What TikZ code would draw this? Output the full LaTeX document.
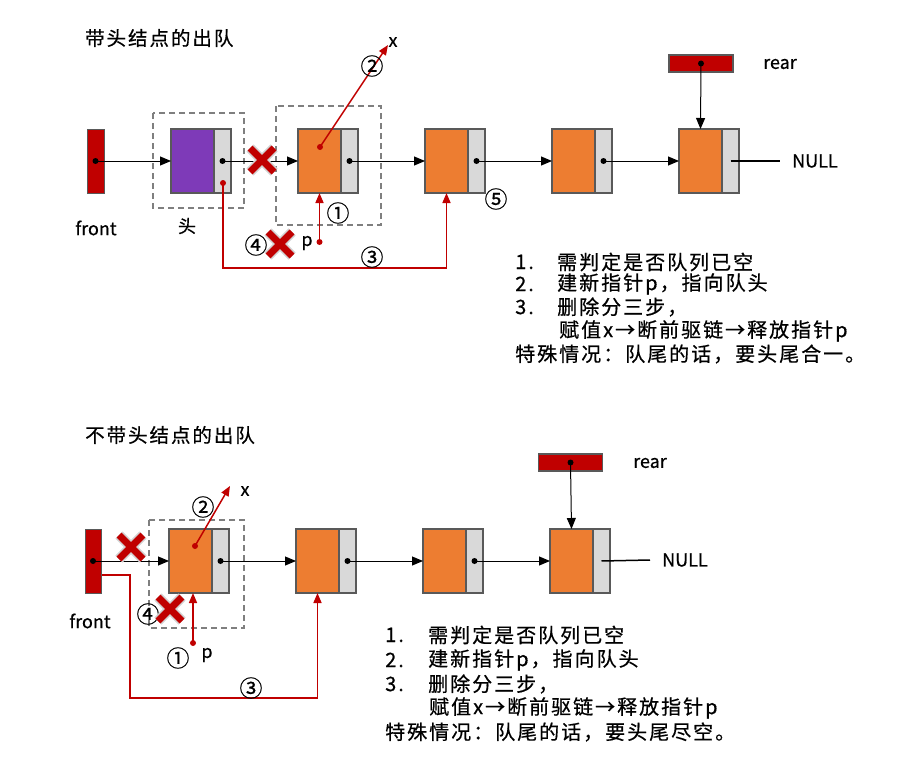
\documentclass[tikz,border=0pt]{standalone}
\usepackage{fontspec}
\setmainfont[FakeBold=0.6]{Noto Sans CJK SC}
\newfontfamily\spacedfont[FakeBold=0.6,LetterSpace=10]{Noto Sans CJK SC}
\usetikzlibrary{arrows.meta}
\definecolor{dred}{HTML}{C00000}
\definecolor{dorange}{HTML}{ED7D31}
\definecolor{lgray}{HTML}{D9D9D9}
\definecolor{bord}{HTML}{595959}
\definecolor{purp}{HTML}{7E3AB8}
\definecolor{dgray}{HTML}{7F7F7F}
\begin{document}
\begin{tikzpicture}[x=1pt,y=-1pt,
  cell/.style={draw=bord,line width=2.5pt,minimum height=64pt,inner sep=0pt,outer sep=0pt},
  datacell/.style={cell,fill=dorange,minimum width=43pt},
  headcell/.style={cell,fill=purp,minimum width=43pt},
  ptrcell/.style={cell,fill=lgray,minimum width=17pt,anchor=west},
  frontbox/.style={draw=bord,line width=1pt,fill=dred,minimum width=17pt,minimum height=64pt,inner sep=0pt},
  rearbox/.style={draw=bord,line width=1.5pt,fill=dred,minimum width=64pt,minimum height=17pt,inner sep=0pt},
  dashbox/.style={draw=dgray,line width=1.5pt,dash pattern=on 6pt off 4pt},
  lbl/.style={font=\fontsize{18}{20}\selectfont,inner sep=0pt},
  circ/.style={font=\fontsize{23}{24}\selectfont,inner sep=0pt},
  title/.style={font=\spacedfont\fontsize{19.5}{22}\selectfont,inner sep=0pt,anchor=west},
  item/.style={font=\spacedfont\fontsize{20}{23}\selectfont,inner sep=0pt,anchor=west},
  bptr/.style={line width=1pt,-{Triangle[length=11pt,width=9pt]}},
  rptr/.style={draw=dred,line width=1.5pt,-{Triangle[length=10pt,width=8pt]},dred},
  xcross/.pic={
    \draw[gray!35,line width=10pt] (-12,-12) -- (12,12) (-12,12) -- (12,-12);
    \draw[dred,line width=7pt] (-12,-12) -- (12,12) (-12,12) -- (12,-12);
  }
]
\useasboundingbox (0,0) rectangle (922,784);

% ================= top: with head node =================
\node[title] (t1) at (85,38) {带头结点的出队};

\draw[dashbox] (153,113) rectangle (244,208);
\draw[dashbox] (276,106) rectangle (381,225);

\node[frontbox] (fT) at (95.5,161) {};
\node[lbl] (fTl) at (96,228) {front};

\node[headcell] (hd) at (192.5,161) {};
\node[ptrcell] (hp) at (hd.east) {};
\node[lbl] (hl) at (187,226) {头};

\node[datacell] (a1) at (319.5,161) {};
\node[ptrcell] (a1p) at (a1.east) {};
\node[datacell] (a2) at (446.5,161) {};
\node[ptrcell] (a2p) at (a2.east) {};
\node[datacell] (a3) at (573.5,161) {};
\node[ptrcell] (a3p) at (a3.east) {};
\node[datacell] (a4) at (700.5,161) {};
\node[ptrcell] (a4p) at (a4.east) {};

\node[rearbox] (rT) at (701,63.5) {};
\node[lbl] (rTl) at (780,64) {rear};
\coordinate (nullT) at (780,161);
\node[lbl,anchor=west] (nTl) at (792,161) {NULL};

\fill (fT.center) circle (3pt);
\fill (hp.center) circle (3pt);
\fill (a1p.center) circle (3pt);
\fill (a2p.center) circle (3pt);
\fill (a3p.center) circle (3pt);
\fill (rT.center) circle (3pt);

\draw[bptr] (fT.center) -- (hd.west);
\draw[bptr] (hp.center) -- (a1.west);
\draw[bptr] (a1p.center) -- (a2.west);
\draw[bptr] (a2p.center) -- (a3.west);
\draw[bptr] (a3p.center) -- (a4.west);
\draw[bptr] (rT.center) -- (a4.north);
\draw[line width=1.5pt] (a4p.center) -- (nullT);

% red pointers
\coordinate (xT) at (388,45);
\coordinate (vT) at (320,147);
\fill[dred] (vT) circle (3pt);
\draw[rptr] (vT) -- (xT);
\node[lbl] (xTl) at (393,42) {x};
\node[circ] (c2T) at (372,66) {②};

\coordinate (pT) at (319.5,242);
\fill[dred] (pT) circle (3pt);
\draw[rptr] (pT) -- (a1.south);
\node[lbl] (pTl) at (307,243) {p};
\node[circ] (c1T) at (338,213) {①};

\coordinate (hT) at (223,183);
\fill[dred] (hT) circle (3pt);
\coordinate (bT) at (223,268);
\draw[rptr] (hT) -- (bT) -| (a2.south);
\node[circ] (c3T) at (372,257) {③};
\node[circ] (c4T) at (256,245) {④};
\node[circ] (c5T) at (496,199) {⑤};

\pic at (262,160) {xcross};
\pic at (280,244) {xcross};

\node[item] (i1n) at (515,262) {1.};
\node[item] (i1t) at (557,262) {需判定是否队列已空};
\node[item] (i2n) at (515,284) {2.};
\node[item] (i2t) at (557,284) {建新指针p，指向队头};
\node[item] (i3n) at (515,307) {3.};
\node[item] (i3t) at (557,307) {删除分三步，};
\node[item] (i4t) at (559,331) {赋值x→断前驱链→释放指针p};
\node[item] (i5t) at (515,354) {特殊情况：队尾的话，要头尾合一。};

% ================= bottom: without head node =================
\node[title] (t2) at (85,435) {不带头结点的出队};

\draw[dashbox] (149,520) rectangle (244,628);

\node[frontbox,minimum width=16pt] (fB) at (93,561) {};
\node[lbl] (fBl) at (90,621) {front};

\node[datacell] (b1) at (190.5,561) {};
\node[ptrcell] (b1p) at (b1.east) {};
\node[datacell] (b2) at (317.5,561) {};
\node[ptrcell] (b2p) at (b2.east) {};
\node[datacell] (b3) at (444.5,561) {};
\node[ptrcell] (b3p) at (b3.east) {};
\node[datacell] (b4) at (571.5,561) {};
\node[ptrcell] (b4p) at (b4.east) {};

\node[rearbox] (rB) at (570.5,462.5) {};
\node[lbl] (rBl) at (650,463) {rear};
\coordinate (nullB) at (650,560);
\node[lbl,anchor=west] (nBl) at (662,560) {NULL};

\fill (fB.center) circle (3pt);
\fill (b1p.center) circle (3pt);
\fill (b2p.center) circle (3pt);
\fill (b3p.center) circle (3pt);
\fill (rB.center) circle (3pt);

\draw[bptr] (fB.center) -- (b1.west);
\draw[bptr] (b1p.center) -- (b2.west);
\draw[bptr] (b2p.center) -- (b3.west);
\draw[bptr] (b3p.center) -- (b4.west);
\draw[bptr] (rB.center) -- (b4.north);
\draw[line width=1.5pt] (b4p.center) -- (nullB);

\coordinate (xB) at (230,486);
\coordinate (vB) at (195,546);
\fill[dred] (vB) circle (3pt);
\draw[rptr] (vB) -- (xB);
\node[lbl] (xBl) at (245,491) {x};
\node[circ] (c2B) at (203,507) {②};

\coordinate (pB) at (193,643);
\fill[dred] (pB) circle (3pt);
\draw[rptr] (pB) -- (pB |- b1.south);
\node[lbl] (pBl) at (207,655) {p};
\node[circ] (c1B) at (178,658) {①};

\coordinate (s2B) at (130,575);
\coordinate (s3B) at (130,698);
\draw[rptr] (fB.east |- s2B) -- (s2B) -- (s3B) -| (b2.south);
\node[circ] (c3B) at (251,688) {③};
\node[circ] (c4B) at (148,614) {④};

\pic at (131,547) {xcross};
\pic at (170,609) {xcross};

\node[item] (j1n) at (385,635) {1.};
\node[item] (j1t) at (428,635) {需判定是否队列已空};
\node[item] (j2n) at (385,660) {2.};
\node[item] (j2t) at (428,660) {建新指针p，指向队头};
\node[item] (j3n) at (385,684) {3.};
\node[item] (j3t) at (428,684) {删除分三步，};
\node[item] (j4t) at (429,708) {赋值x→断前驱链→释放指针p};
\node[item] (j5t) at (385,732) {特殊情况：队尾的话，要头尾尽空。};
\end{tikzpicture}
\end{document}
